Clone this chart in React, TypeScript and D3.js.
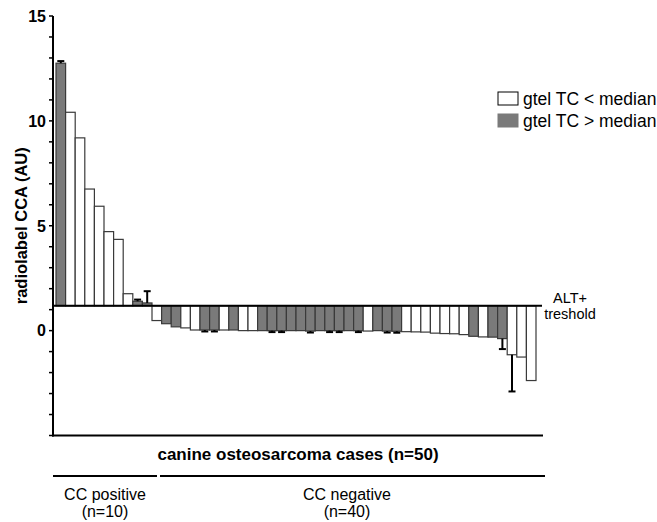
import { useMemo } from 'react';
import * as d3 from 'd3';

// values (AU), bars hang from the ALT+ threshold
const caseValues = [
  12.75, 10.41, 9.19, 6.75, 5.93, 4.72, 4.35, 1.76, 1.4, 1.32,
  0.48, 0.33, 0.18, 0.13, 0.03, 0.03, 0.03, 0.03, 0.03, 0.0,
  0.0, 0.0, 0.0, 0.0, 0.0, 0.0, -0.02, 0.0, 0.0, 0.0,
  0.0, 0.0, -0.02, 0.0, -0.02, -0.03, -0.05, -0.06, -0.07, -0.12,
  -0.14, -0.15, -0.19, -0.27, -0.3, -0.31, -0.38, -1.15, -1.26, -2.38,
];
// 1 = gtel TC > median (grey), 0 = gtel TC < median (white)
const highTelomerase = [
  1, 0, 0, 0, 0, 0, 0, 0, 1, 1,
  0, 1, 1, 0, 0, 1, 1, 0, 1, 0,
  0, 1, 1, 1, 1, 1, 1, 1, 1, 1,
  1, 1, 0, 1, 1, 1, 0, 0, 0, 0,
  0, 0, 0, 1, 0, 1, 1, 0, 0, 0,
];
const caseErrors = [
  0.1, 0, 0, 0, 0, 0, 0, 0, 0.08, 0.56,
  0, 0, 0, 0, 0, 0.07, 0.07, 0, 0, 0,
  0, 0, 0.07, 0.07, 0, 0, 0.07, 0, 0.07, 0.07,
  0, 0.07, 0, 0, 0.07, 0.07, 0, 0, 0, 0,
  0, 0, 0, 0, 0, 0, 0.5, 1.75, 0, 0,
];
const threshold = 1.18;
const yTicks = d3.range(-5, 16, 1);
const yLabels = [0, 5, 10, 15];
const groups = [
  { name: 'CC positive', n: 'n=10', from: 0, to: 9 },
  { name: 'CC negative', n: 'n=40', from: 10, to: 49 },
];
const legendItems = ['gtel TC < median', 'gtel TC > median'];

const FONT = 'Arial, "Liberation Sans", sans-serif';
const GREY = '#7a7a7a';

export default function App() {
  const x = useMemo(
    () => d3.scaleBand<number>().domain(d3.range(caseValues.length)).range([56, 536]).padding(0),
    []
  );
  const y = useMemo(() => d3.scaleLinear().domain([-5, 15]).range([435.5, 16]), []);
  const yT = y(threshold);
  const axisX = 53;
  const axisRight = 543;

  return (
    <svg width={657} height={522} style={{ position: 'absolute', left: 0, top: 0, background: '#fff' }} fontFamily={FONT}>
      {/* bars */}
      {caseValues.map((v, i) => {
        const yv = y(v);
        return (
          <rect
            key={i}
            x={x(i)}
            y={Math.min(yv, yT)}
            width={x.bandwidth()}
            height={Math.abs(yv - yT)}
            fill={highTelomerase[i] ? GREY : '#fff'}
            stroke="#3a3a3a"
            strokeWidth={1.2}
          />
        );
      })}

      {/* error bars */}
      {caseValues.map((v, i) => {
        const e = caseErrors[i];
        if (!e) return null;
        const dir = v >= threshold ? 1 : -1;
        const cx = (x(i) as number) + x.bandwidth() / 2;
        const y1 = y(v);
        const y2 = y(v + dir * e);
        return (
          <g key={'e' + i} stroke="#000" strokeWidth={2}>
            <line x1={cx} x2={cx} y1={y1} y2={y2} />
            <line x1={cx - 3.5} x2={cx + 3.5} y1={y2} y2={y2} />
          </g>
        );
      })}

      {/* threshold line */}
      <line x1={axisX} x2={542} y1={yT} y2={yT} stroke="#000" strokeWidth={2} />
      <text x={570} y={303} fontSize={14.5} textAnchor="middle">ALT+</text>
      <text x={570} y={319} fontSize={14.5} textAnchor="middle">treshold</text>

      {/* y axis */}
      <line x1={axisX} x2={axisX} y1={y(15)} y2={y(-5) + 1} stroke="#000" strokeWidth={2} />
      {yTicks.map((t) => (
        <line key={t} x1={axisX - 4} x2={axisX} y1={y(t)} y2={y(t)} stroke="#000" strokeWidth={1.5} />
      ))}
      {yLabels.map((t) => (
        <text key={t} x={46} y={y(t)} dy="0.36em" fontSize={16} fontWeight="bold" textAnchor="end">
          {t}
        </text>
      ))}
      <text
        transform={`translate(27,${(y(15) + y(-5)) / 2}) rotate(-90)`}
        fontSize={16.5}
        fontWeight="bold"
        textAnchor="middle"
      >
        radiolabel CCA (AU)
      </text>

      {/* x axis */}
      <line x1={axisX - 1} x2={axisRight} y1={y(-5)} y2={y(-5)} stroke="#000" strokeWidth={2} />
      <text x={298} y={460} fontSize={17} fontWeight="bold" textAnchor="middle">
        canine osteosarcoma cases (n=50)
      </text>

      {/* groups */}
      {groups.map((g, gi) => {
        const x1 = gi === 0 ? axisX : (x(g.from) as number) + 8;
        const x2 = gi === 0 ? (x(g.to) as number) + x.bandwidth() + 5 : 545;
        const cx = gi === 0 ? 105 : 347;
        return (
          <g key={g.name}>
            <line x1={x1} x2={x2} y1={476} y2={476} stroke="#000" strokeWidth={2} />
            <text x={cx} y={500} fontSize={16} textAnchor="middle">{g.name}</text>
            <text x={cx} y={517} fontSize={16} textAnchor="middle">({g.n})</text>
          </g>
        );
      })}

      {/* legend */}
      {legendItems.map((label, i) => (
        <g key={label} transform={`translate(0,${i * 22})`}>
          <rect
            x={498}
            y={92}
            width={20}
            height={13}
            fill={i ? GREY : '#fff'}
            stroke={i ? GREY : '#000'}
            strokeWidth={1}
          />
          <text x={523} y={105} fontSize={17.5}>{label}</text>
        </g>
      ))}
    </svg>
  );
}
